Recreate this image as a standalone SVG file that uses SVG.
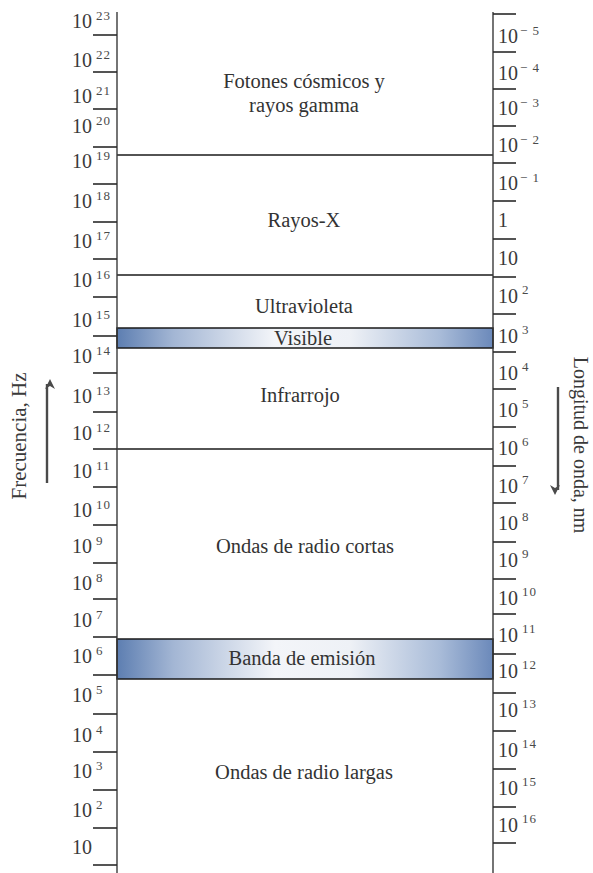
<svg xmlns="http://www.w3.org/2000/svg" width="593" height="873" viewBox="0 0 593 873">
<style>
.ax{stroke:#3a3a3a;stroke-width:1.4;fill:none}
.tk{stroke:#2a2a2a;stroke-width:1.6}
.sep{stroke:#1a1a1a;stroke-width:1.5}
.n{font-family:"Liberation Serif","Times New Roman",serif;font-size:20px;fill:#3a3a3a}
.s{font-family:"Liberation Serif","Times New Roman",serif;font-size:13px;fill:#4a4a4a;letter-spacing:1px}
.lbl{font-family:"Liberation Serif","Times New Roman",serif;font-size:20.5px;fill:#333;text-anchor:middle}
.side{font-family:"Liberation Serif","Times New Roman",serif;fill:#3a3a3a;text-anchor:middle}
.arr{stroke:#4a4a4a;stroke-width:2.4;fill:none}
</style>
<defs>
<linearGradient id="gBand" x1="0" y1="0" x2="1" y2="0">
<stop offset="0" stop-color="#5d7eb1"/>
<stop offset="0.15" stop-color="#a3b6d4"/>
<stop offset="0.42" stop-color="#f3f5f9"/>
<stop offset="0.62" stop-color="#eef1f6"/>
<stop offset="0.86" stop-color="#a8bbd8"/>
<stop offset="1" stop-color="#6b89ba"/>
</linearGradient>
<marker id="ah" viewBox="0 0 10 12" refX="5" refY="2" markerWidth="10" markerHeight="12" orient="auto" markerUnits="userSpaceOnUse">
<path d="M5 0 L10 10 L5 7 L0 10 Z" fill="#4a4a4a" transform="rotate(90 5 5)"/>
</marker>
</defs>
<rect width="593" height="873" fill="#fff"/>

<g id="bands">
<g id="band-visible"><rect x="117" y="328" width="376" height="20" fill="url(#gBand)" stroke="#1a1a1a" stroke-width="1.5"/></g>
<g id="band-emision"><rect x="117" y="639" width="376" height="40" fill="url(#gBand)" stroke="#1a1a1a" stroke-width="1.5"/></g>
</g>

<g id="connectors">
<line class="sep" x1="117" y1="155" x2="493" y2="155"/>
<line class="sep" x1="117" y1="275" x2="493" y2="275"/>
<line class="sep" x1="117" y1="449" x2="493" y2="449"/>
</g>

<g id="left-axis">
<line class="ax" x1="117" y1="12" x2="117" y2="873"/>
<g id="left-ticks">
<line class="tk" x1="93" y1="35" x2="117" y2="35"/>
<line class="tk" x1="93" y1="72" x2="117" y2="72"/>
<line class="tk" x1="93" y1="109" x2="117" y2="109"/>
<line class="tk" x1="93" y1="147" x2="117" y2="147"/>
<line class="tk" x1="93" y1="184" x2="117" y2="184"/>
<line class="tk" x1="93" y1="222" x2="117" y2="222"/>
<line class="tk" x1="93" y1="259" x2="117" y2="259"/>
<line class="tk" x1="93" y1="297" x2="117" y2="297"/>
<line class="tk" x1="93" y1="336" x2="117" y2="336"/>
<line class="tk" x1="93" y1="373" x2="117" y2="373"/>
<line class="tk" x1="93" y1="412" x2="117" y2="412"/>
<line class="tk" x1="93" y1="449" x2="117" y2="449"/>
<line class="tk" x1="93" y1="487" x2="117" y2="487"/>
<line class="tk" x1="93" y1="525" x2="117" y2="525"/>
<line class="tk" x1="93" y1="563" x2="117" y2="563"/>
<line class="tk" x1="93" y1="599" x2="117" y2="599"/>
<line class="tk" x1="93" y1="637" x2="117" y2="637"/>
<line class="tk" x1="93" y1="675" x2="117" y2="675"/>
<line class="tk" x1="93" y1="714" x2="117" y2="714"/>
<line class="tk" x1="93" y1="752" x2="117" y2="752"/>
<line class="tk" x1="93" y1="790" x2="117" y2="790"/>
<line class="tk" x1="93" y1="828" x2="117" y2="828"/>
<line class="tk" x1="93" y1="865" x2="117" y2="865"/>
</g>
<g id="left-labels">
<text class="n" x="72" y="28">10</text><text class="s" x="96" y="20">23</text>
<text class="n" x="72" y="67">10</text><text class="s" x="96" y="59">22</text>
<text class="n" x="72" y="103">10</text><text class="s" x="96" y="95">21</text>
<text class="n" x="72" y="133">10</text><text class="s" x="96" y="125">20</text>
<text class="n" x="72" y="168">10</text><text class="s" x="96" y="160">19</text>
<text class="n" x="72" y="208">10</text><text class="s" x="96" y="200">18</text>
<text class="n" x="72" y="248">10</text><text class="s" x="96" y="240">17</text>
<text class="n" x="72" y="287">10</text><text class="s" x="96" y="279">16</text>
<text class="n" x="72" y="327">10</text><text class="s" x="96" y="319">15</text>
<text class="n" x="72" y="363">10</text><text class="s" x="96" y="355">14</text>
<text class="n" x="72" y="403">10</text><text class="s" x="96" y="395">13</text>
<text class="n" x="72" y="440">10</text><text class="s" x="96" y="432">12</text>
<text class="n" x="72" y="478">10</text><text class="s" x="96" y="470">11</text>
<text class="n" x="72" y="517">10</text><text class="s" x="96" y="509">10</text>
<text class="n" x="72" y="553">10</text><text class="s" x="96" y="545">9</text>
<text class="n" x="72" y="590">10</text><text class="s" x="96" y="582">8</text>
<text class="n" x="72" y="627">10</text><text class="s" x="96" y="619">7</text>
<text class="n" x="72" y="663">10</text><text class="s" x="96" y="655">6</text>
<text class="n" x="72" y="702">10</text><text class="s" x="96" y="694">5</text>
<text class="n" x="72" y="742">10</text><text class="s" x="96" y="734">4</text>
<text class="n" x="72" y="778">10</text><text class="s" x="96" y="770">3</text>
<text class="n" x="72" y="817">10</text><text class="s" x="96" y="809">2</text>
<text class="n" x="72" y="854">10</text>
</g>
</g>

<g id="right-axis">
<line class="ax" x1="493" y1="12" x2="493" y2="873"/>
<g id="right-ticks">
<line class="tk" x1="493" y1="14" x2="516" y2="14"/>
<line class="tk" x1="493" y1="52" x2="516" y2="52"/>
<line class="tk" x1="493" y1="89" x2="516" y2="89"/>
<line class="tk" x1="493" y1="126" x2="516" y2="126"/>
<line class="tk" x1="493" y1="163" x2="516" y2="163"/>
<line class="tk" x1="493" y1="201" x2="516" y2="201"/>
<line class="tk" x1="493" y1="239" x2="516" y2="239"/>
<line class="tk" x1="493" y1="277" x2="516" y2="277"/>
<line class="tk" x1="493" y1="314" x2="516" y2="314"/>
<line class="tk" x1="493" y1="352" x2="516" y2="352"/>
<line class="tk" x1="493" y1="389" x2="516" y2="389"/>
<line class="tk" x1="493" y1="427" x2="516" y2="427"/>
<line class="tk" x1="493" y1="466" x2="516" y2="466"/>
<line class="tk" x1="493" y1="503" x2="516" y2="503"/>
<line class="tk" x1="493" y1="542" x2="516" y2="542"/>
<line class="tk" x1="493" y1="579" x2="516" y2="579"/>
<line class="tk" x1="493" y1="614" x2="516" y2="614"/>
<line class="tk" x1="493" y1="654" x2="516" y2="654"/>
<line class="tk" x1="493" y1="693" x2="516" y2="693"/>
<line class="tk" x1="493" y1="731" x2="516" y2="731"/>
<line class="tk" x1="493" y1="769" x2="516" y2="769"/>
<line class="tk" x1="493" y1="807" x2="516" y2="807"/>
<line class="tk" x1="493" y1="843" x2="516" y2="843"/>
</g>
<g id="right-labels">
<text class="n" x="498" y="43">10</text><text class="s" x="520" y="35">− 5</text>
<text class="n" x="498" y="80">10</text><text class="s" x="520" y="72">− 4</text>
<text class="n" x="498" y="115">10</text><text class="s" x="520" y="107">− 3</text>
<text class="n" x="498" y="152">10</text><text class="s" x="520" y="144">− 2</text>
<text class="n" x="498" y="190">10</text><text class="s" x="520" y="182">− 1</text>
<text class="n" x="498" y="227">1</text>
<text class="n" x="498" y="265">10</text>
<text class="n" x="498" y="303">10</text><text class="s" x="522" y="294">2</text>
<text class="n" x="498" y="343">10</text><text class="s" x="522" y="334">3</text>
<text class="n" x="498" y="380">10</text><text class="s" x="522" y="371">4</text>
<text class="n" x="498" y="417">10</text><text class="s" x="522" y="408">5</text>
<text class="n" x="498" y="455">10</text><text class="s" x="522" y="446">6</text>
<text class="n" x="498" y="493">10</text><text class="s" x="522" y="484">7</text>
<text class="n" x="498" y="530">10</text><text class="s" x="522" y="521">8</text>
<text class="n" x="498" y="567">10</text><text class="s" x="522" y="558">9</text>
<text class="n" x="498" y="605">10</text><text class="s" x="522" y="596">10</text>
<text class="n" x="498" y="642">10</text><text class="s" x="522" y="633">11</text>
<text class="n" x="498" y="678">10</text><text class="s" x="522" y="669">12</text>
<text class="n" x="498" y="717">10</text><text class="s" x="522" y="708">13</text>
<text class="n" x="498" y="757">10</text><text class="s" x="522" y="748">14</text>
<text class="n" x="498" y="795">10</text><text class="s" x="522" y="786">15</text>
<text class="n" x="498" y="832">10</text><text class="s" x="522" y="823">16</text>
</g>
</g>

<g id="region-labels">
<g id="gamma"><text class="lbl" x="304" y="88">Fotones cósmicos y</text><text class="lbl" x="304" y="112">rayos gamma</text></g>
<g id="rayos-x"><text class="lbl" x="304" y="227">Rayos-X</text></g>
<g id="ultravioleta"><text class="lbl" x="304" y="313">Ultravioleta</text></g>
<g id="visible"><text class="lbl" x="303" y="345">Visible</text></g>
<g id="infrarrojo"><text class="lbl" x="300" y="402">Infrarrojo</text></g>
<g id="radio-cortas"><text class="lbl" x="305" y="553">Ondas de radio cortas</text></g>
<g id="emision"><text class="lbl" x="302" y="665">Banda de emisión</text></g>
<g id="radio-largas"><text class="lbl" x="304" y="779">Ondas de radio largas</text></g>
</g>

<g id="frecuencia">
<text class="side" font-size="21" transform="translate(26,436) rotate(-90)">Frecuencia, Hz</text>
<line class="arr" x1="47" y1="483" x2="47" y2="384" marker-end="url(#ah)"/>
</g>
<g id="longitud">
<text class="side" font-size="20" transform="translate(574,445) rotate(90)">Longitud de onda, nm</text>
<line class="arr" x1="558" y1="387" x2="558" y2="490" marker-end="url(#ah)"/>
</g>
</svg>
